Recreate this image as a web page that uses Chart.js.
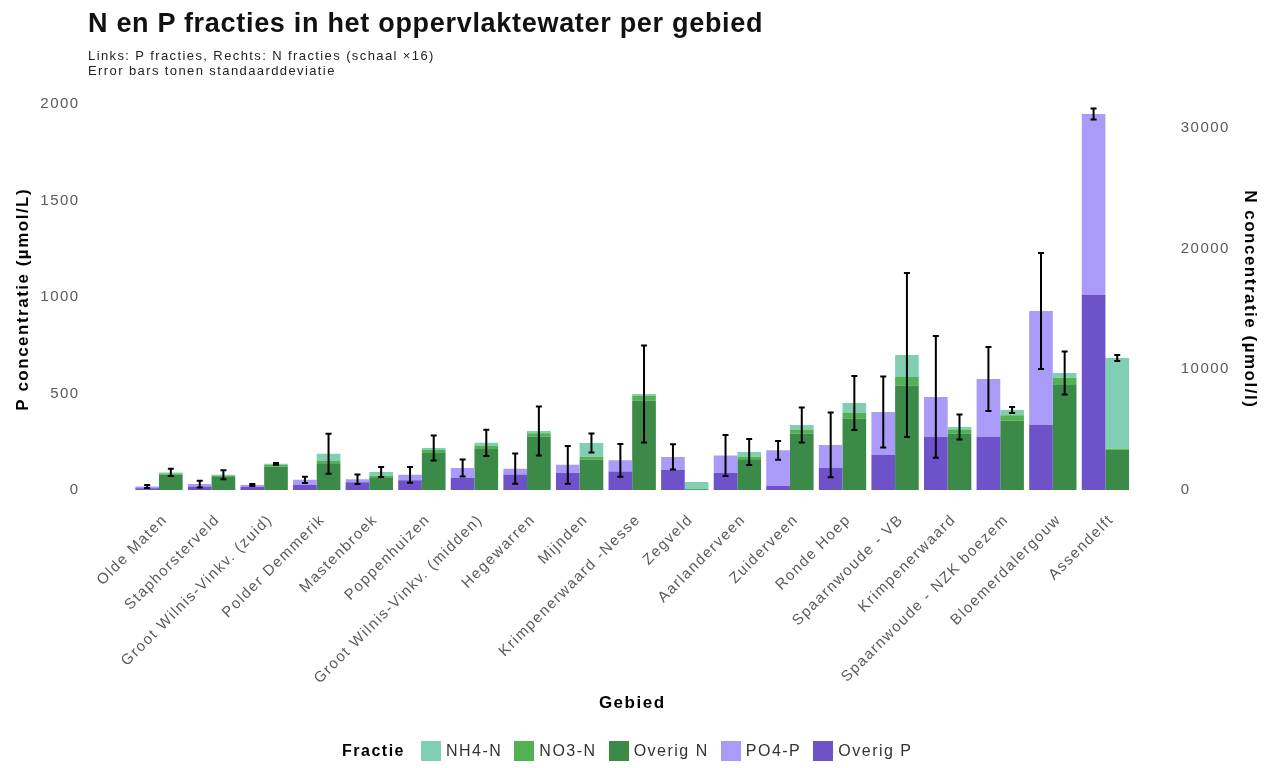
<!DOCTYPE html>
<html>
<head>
<meta charset="utf-8">
<script src="https://cdn.jsdelivr.net/npm/chart.js@4.4.0/dist/chart.umd.min.js"></script>
<style>
  html, body { margin: 0; padding: 0; background: #fff; }
  #wrap { position: relative; width: 1271px; height: 768px; font-family: "Liberation Sans", Arial, sans-serif; }
  #chart { position: absolute; left: 0; top: 0; }
  #title { position: absolute; left: 88px; top: 8px; font-size: 27px; font-weight: bold; color: #111; letter-spacing: 0.7px; white-space: nowrap; }
  #sub { position: absolute; left: 88px; top: 48px; font-size: 13px; line-height: 15px; color: #222; letter-spacing: 1.4px; white-space: nowrap; }
  #legend { position: absolute; left: 342px; top: 740px; height: 22px; display: flex; align-items: center; font-size: 16px; color: #333; letter-spacing: 1.5px; white-space: nowrap; }
  #legend .lt { font-weight: bold; color: #000; margin-right: 16px; }
  #legend .box { width: 20px; height: 20px; margin-right: 5px; }
  #legend .lab { margin-right: 12px; }
</style>
</head>
<body>
<div id="wrap">
  <canvas id="chart" width="1271" height="768"></canvas>
  <div id="title">N en P fracties in het oppervlaktewater per gebied</div>
  <div id="sub">Links: P fracties, Rechts: N fracties (schaal ×16)<br>Error bars tonen standaarddeviatie</div>
  <div id="legend"></div>
</div>
<script>
// gebieden, gesorteerd op P totaal
const gebieden = ['Olde Maten', 'Staphorsterveld', 'Groot Wilnis-Vinkv. (zuid)', 'Polder Demmerik', 'Mastenbroek',
  'Poppenhuizen', 'Groot Wilnis-Vinkv. (midden)', 'Hegewarren', 'Mijnden', 'Krimpenerwaard -Nesse', 'Zegveld',
  'Aarlanderveen', 'Zuiderveen', 'Ronde Hoep', 'Spaarnwoude - VB', 'Krimpenerwaard', 'Spaarnwoude - NZK boezem',
  'Bloemerdalergouw', 'Assendelft'];

// P fracties (umol/L)
const overigP = [8, 18, 15, 25, 40, 50, 62, 80, 88, 95, 104, 88, 22, 115, 181, 275, 275, 337, 1010];
const po4P    = [10, 12, 10, 27, 15, 28, 52, 30, 42, 58, 67, 90, 183, 118, 223, 207, 300, 590, 938];
const sdP     = [8, 18, 5, 16, 25, 41, 44, 78, 98, 85, 65, 106, 49, 168, 184, 316, 166, 301, 28];

// N fracties (umol/l)
const overigN = [1250, 1070, 1910, 2200, 1050, 3050, 3400, 4400, 2490, 7400, 60, 2550, 4650, 5930, 8660, 4650, 5730, 8700, 3320];
const no3N    = [100, 80, 150, 200, 100, 250, 250, 300, 250, 400, 0, 200, 350, 450, 700, 350, 450, 600, 100];
const nh4N    = [100, 100, 100, 590, 340, 180, 250, 190, 1150, 160, 600, 400, 390, 830, 1830, 220, 450, 400, 7520];
const sdN     = [300, 370, 80, 1660, 415, 1040, 1080, 2030, 790, 4020, null, 1080, 1450, 2240, 6800, 1040, 250, 1780, 250];

// as-ticks
const pTicks = [0, 500, 1000, 1500, 2000];
const nTicks = [0, 10000, 20000, 30000];

const schaal = 16;
const pMin = -99, pMax = 2075;

const kleuren = {
  'NH4-N': '#80cfb2',
  'NO3-N': '#52b152',
  'Overig N': '#3c8a47',
  'PO4-P': '#ab9bf8',
  'Overig P': '#6d52c9'
};

Chart.defaults.font.family = '"Liberation Sans", Arial, sans-serif';

// ruimere letterafstand zoals in het origineel
const spacing = {
  id: 'spacing',
  beforeUpdate(chart) { chart.ctx.letterSpacing = '1.5px'; },
  beforeDraw(chart) { chart.ctx.letterSpacing = '1.5px'; }
};

// error bars op de top van iedere stapel
const errorBars = {
  id: 'errorBars',
  afterDatasetsDraw(chart) {
    const ctx = chart.ctx;
    const groups = [
      { meta: chart.getDatasetMeta(1), parts: [overigP, po4P], sd: sdP, scale: chart.scales.y },
      { meta: chart.getDatasetMeta(4), parts: [overigN, no3N, nh4N], sd: sdN, scale: chart.scales.y2 }
    ];
    ctx.save();
    ctx.strokeStyle = '#000';
    ctx.lineWidth = 2;
    groups.forEach(g => {
      g.meta.data.forEach((bar, i) => {
        if (g.sd[i] == null) return;
        const total = g.parts.reduce((s, arr) => s + arr[i], 0);
        const yTop = g.scale.getPixelForValue(total + g.sd[i]);
        const yBot = g.scale.getPixelForValue(total - g.sd[i]);
        const x = bar.x;
        ctx.beginPath();
        ctx.moveTo(x, yTop); ctx.lineTo(x, yBot);
        ctx.moveTo(x - 3, yTop); ctx.lineTo(x + 3, yTop);
        ctx.moveTo(x - 3, yBot); ctx.lineTo(x + 3, yBot);
        ctx.stroke();
      });
    });
    ctx.restore();
  }
};

const ds = (label, data, stack, axis) => ({
  label: label,
  data: data,
  stack: stack,
  yAxisID: axis,
  backgroundColor: kleuren[label],
  borderWidth: 0,
  barPercentage: 1.0,
  categoryPercentage: 0.9
});

const tickFont = { size: 15 };
const titleFont = { size: 17, weight: 'bold' };

new Chart(document.getElementById('chart').getContext('2d'), {
  type: 'bar',
  data: {
    labels: gebieden,
    datasets: [
      ds('Overig P', overigP, 'P', 'y'),
      ds('PO4-P', po4P, 'P', 'y'),
      ds('Overig N', overigN, 'N', 'y2'),
      ds('NO3-N', no3N, 'N', 'y2'),
      ds('NH4-N', nh4N, 'N', 'y2')
    ]
  },
  options: {
    responsive: false,
    animation: false,
    layout: { padding: { top: 89.5, left: 0, right: 0, bottom: 40 } },
    plugins: { legend: { display: false }, tooltip: { enabled: false } },
    scales: {
      x: {
        stacked: true,
        grid: { display: false, drawTicks: false },
        border: { display: false },
        ticks: { autoSkip: false, maxRotation: 45, minRotation: 45, padding: 2, labelOffset: 6, color: '#5a5a5a', font: tickFont },
        title: { display: true, text: 'Gebied', color: '#000', font: titleFont, padding: { top: 4, bottom: 14 } },
        afterFit: s => { s.height = 219; }
      },
      y: {
        position: 'left',
        stacked: true,
        min: pMin,
        max: pMax,
        grid: { display: false, drawTicks: false },
        border: { display: false },
        ticks: { padding: 53, color: '#5a5a5a', font: tickFont, callback: v => String(v) },
        afterBuildTicks: s => { s.ticks = pTicks.map(v => ({ value: v })); },
        title: { display: true, text: 'P concentratie (µmol/L)', color: '#000', font: titleFont, padding: { top: 13, bottom: 0 } },
        afterFit: s => { s.width = 132.7; }
      },
      y2: {
        position: 'right',
        stacked: true,
        min: pMin * schaal,
        max: pMax * schaal,
        grid: { display: false, drawTicks: false },
        border: { display: false },
        ticks: { padding: 49, color: '#5a5a5a', font: tickFont, callback: v => String(v) },
        afterBuildTicks: s => { s.ticks = nTicks.map(v => ({ value: v })); },
        title: { display: true, text: 'N concentratie (µmol/l)', color: '#000', font: titleFont, padding: { top: 11, bottom: 0 } },
        afterFit: s => { s.width = 139.3; }
      }
    }
  },
  plugins: [spacing, errorBars]
});

// legenda
const legend = document.getElementById('legend');
legend.innerHTML = '<span class="lt">Fractie</span>' +
  ['NH4-N', 'NO3-N', 'Overig N', 'PO4-P', 'Overig P'].map(k =>
    '<span class="box" style="background:' + kleuren[k] + '"></span><span class="lab">' + k + '</span>').join('');
</script>
</body>
</html>
